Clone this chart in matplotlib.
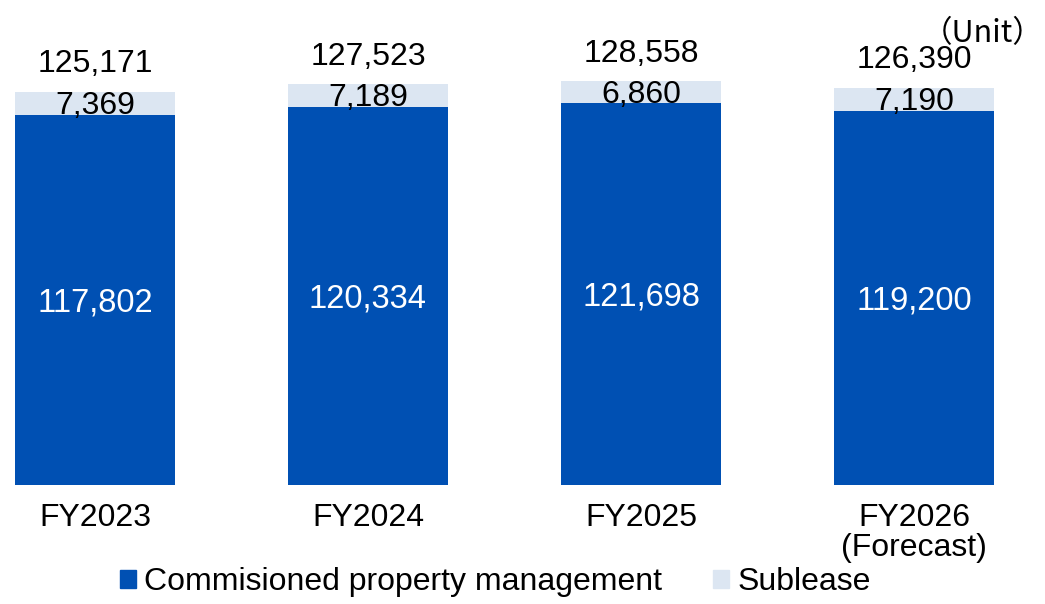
import matplotlib.pyplot as plt
from matplotlib.patches import Patch
import numpy as np

categories = ['FY2023', 'FY2024', 'FY2025', 'FY2026\n(Forecast)']
commissioned = [117802, 120334, 121698, 119200]
sublease = [7369, 7189, 6860, 7190]
totals = [125171, 127523, 128558, 126390]

blue = '#0050B3'
light = '#DCE6F2'

plt.rcParams['font.family'] = ['Liberation Sans', 'DejaVu Sans']

fig = plt.figure(figsize=(10.45, 6.04), dpi=100)
ax = fig.add_axes([0, 0.197, 1, 0.803])

x = np.arange(len(categories))
w = 0.586
ax.bar(x, commissioned, w, color=blue)
ax.bar(x, sublease, w, bottom=commissioned, color=light)

for i in range(len(x)):
    ax.annotate(f'{commissioned[i]:,}', (x[i], commissioned[i] / 2), xytext=(0, -2),
                textcoords='offset points', ha='center', va='center', color='white', fontsize=23.5)
    ax.annotate(f'{sublease[i]:,}', (x[i], commissioned[i] + sublease[i] / 2), xytext=(0, -2),
                textcoords='offset points', ha='center', va='center', color='black', fontsize=23)
    ax.annotate(f'{totals[i]:,}', (x[i], totals[i]), xytext=(0, 9), textcoords='offset points',
                ha='center', va='bottom', fontsize=23)

ax.set_xlim(-0.348, 3.48)
ax.set_ylim(0, 154400)
ax.set_xticks(x)
ax.set_xticklabels(categories, fontsize=23, linespacing=1.0)
ax.tick_params(axis='x', length=0, pad=13)
ax.set_yticks([])
for s in ax.spines.values():
    s.set_visible(False)

fig.text(0.999, 0.945, '（Unit）', ha='right', va='center', fontsize=22,
         family=['Noto Sans CJK JP', 'DejaVu Sans'])

handles = [Patch(color=blue, label='Commisioned property management'),
           Patch(color=light, label='Sublease')]
fig.legend(handles=handles, loc='center', bbox_to_anchor=(0.474, 0.036), ncol=2, frameon=False,
           fontsize=23, handlelength=0.5, handleheight=0.5, handletextpad=0.25,
           columnspacing=1.6)

fig.savefig('out.png', dpi=100)
